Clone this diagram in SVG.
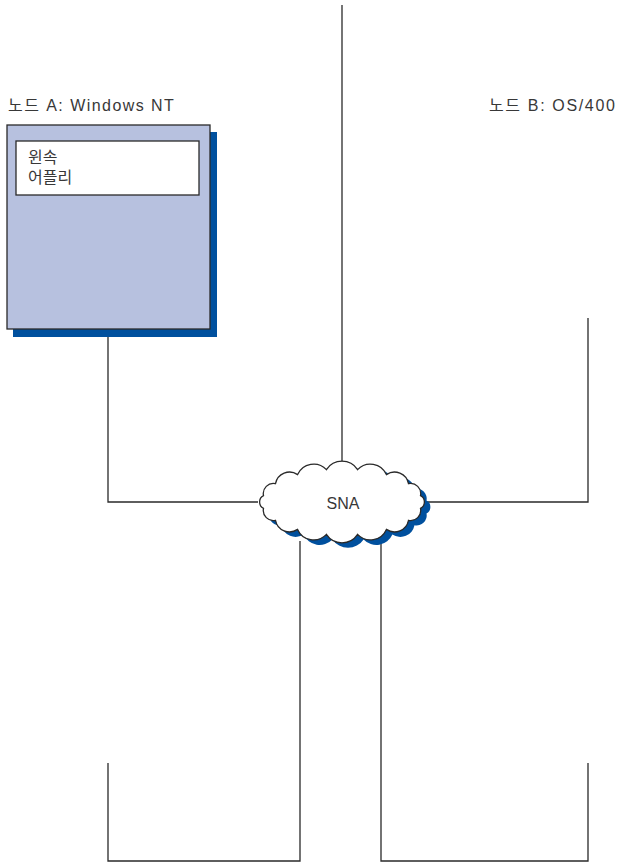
<svg xmlns="http://www.w3.org/2000/svg" width="621" height="867" viewBox="0 0 621 867">
<style>
.ln{fill:none;stroke:#2a2a2a;stroke-width:1.3}
.t{font-family:"Liberation Sans","Noto Sans CJK KR",sans-serif;font-size:16px;fill:#383838}
.wa{letter-spacing:1.45px}
.wb{letter-spacing:1.65px}
.shadow{fill:#00509e}
</style>
<defs>
<path id="cloudPath" d="M263.5,495.6 A10.1,10.1 0 0 1 275.5,483.7 A14.3,14.3 0 0 1 297.6,474.6 A17.5,17.5 0 0 1 326.4,469.6 A18.7,18.7 0 0 1 357.6,469.6 A17.5,17.5 0 0 1 386.4,474.6 A14.3,14.3 0 0 1 408.5,483.7 A10.1,10.1 0 0 1 420.5,495.6 A7.2,7.2 0 0 1 420.5,508.4 A10.1,10.1 0 0 1 408.5,520.3 A14.3,14.3 0 0 1 386.4,529.4 A17.5,17.5 0 0 1 357.6,534.4 A18.7,18.7 0 0 1 326.4,534.4 A17.5,17.5 0 0 1 297.6,529.4 A14.3,14.3 0 0 1 275.5,520.3 A10.1,10.1 0 0 1 263.5,508.4 A7.2,7.2 0 0 1 263.5,495.6 Z"/>
</defs>
<g id="connectors">
<polyline class="ln" points="342,5 342,462"/>
<polyline class="ln" points="108,337 108,502 258,502"/>
<polyline class="ln" points="588,318 588,502 426,502"/>
<polyline class="ln" points="300,541 300,861 108,861 108,763"/>
<polyline class="ln" points="381,542 381,861 588,861 588,763"/>
</g>
<g id="nodeA">
<text class="t wa" x="8" y="111">노드 A: Windows NT</text>
<rect class="shadow" x="13" y="132" width="204" height="205"/>
<rect x="7" y="125" width="203" height="204" fill="#b7c1df" stroke="#2a2a2a" stroke-width="1.3"/>
<rect x="16" y="141" width="183" height="54" fill="#fff" stroke="#2a2a2a" stroke-width="1.3"/>
<text class="t" x="28" y="163">윈속</text>
<text class="t" x="28" y="183">어플리</text>
</g>
<g id="nodeB">
<text class="t wb" x="489" y="111">노드 B: OS/400</text>
</g>
<g id="sna">
<use href="#cloudPath" class="shadow" transform="translate(6,5)"/>
<use href="#cloudPath" fill="#fff" stroke="#2a2a2a" stroke-width="1.3"/>
<text class="t" x="343" y="509" text-anchor="middle">SNA</text>
</g>
</svg>
